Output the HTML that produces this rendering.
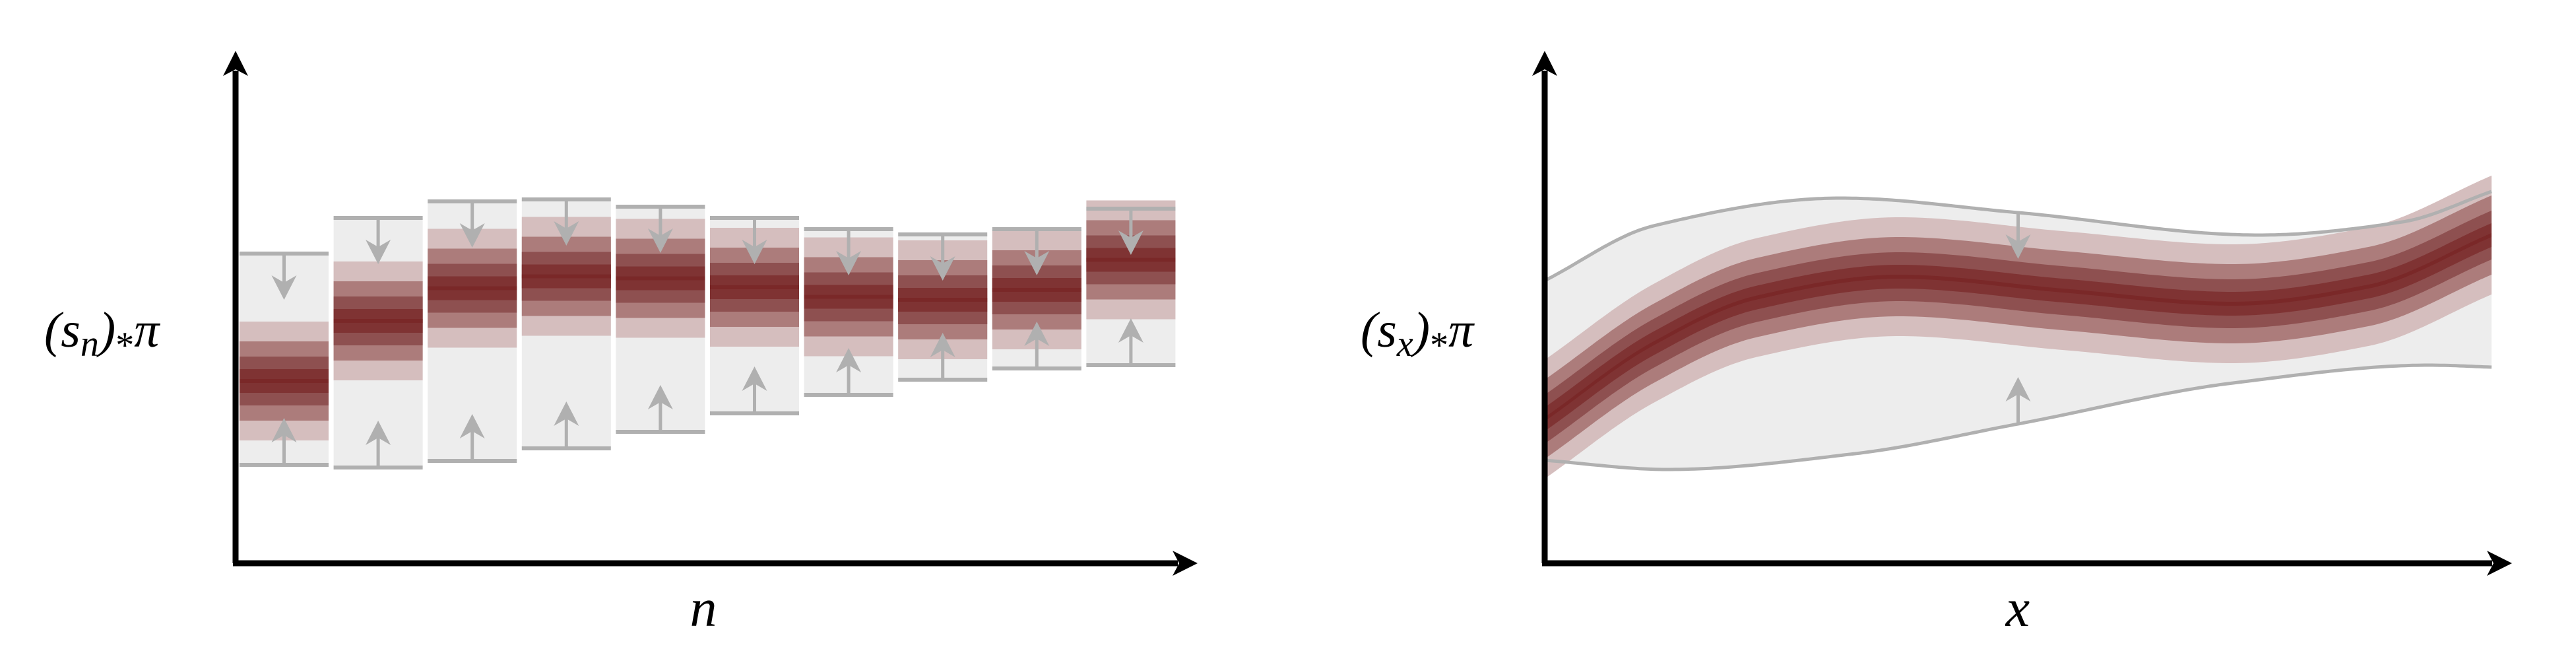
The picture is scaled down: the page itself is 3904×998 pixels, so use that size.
<!DOCTYPE html>
<html><head><meta charset="utf-8">
<style>
html,body{margin:0;padding:0;background:#fff;}
svg{display:block;}
text{font-family:"Liberation Serif","DejaVu Serif",serif;font-style:italic;fill:#000;}
</style></head>
<body>
<svg id="chart" width="3904" height="998" viewBox="0 0 3904 998" xmlns="http://www.w3.org/2000/svg">
  <g id="left"></g>
  <g id="right"></g>
  <text font-family="Liberation Serif, DejaVu Serif, serif" font-style="italic" x="67" y="525" font-size="76">(s<tspan font-size="56" dy="14">n</tspan><tspan dy="-14">)</tspan><tspan font-size="56" dy="16" font-style="normal">*</tspan><tspan dy="-16">π</tspan></text>
  <text font-family="Liberation Serif, DejaVu Serif, serif" font-style="italic" x="1066" y="948" font-size="82" text-anchor="middle">n</text>
  <text font-family="Liberation Serif, DejaVu Serif, serif" font-style="italic" x="2062" y="525" font-size="76">(s<tspan font-size="56" dy="14">x</tspan><tspan dy="-14">)</tspan><tspan font-size="56" dy="16" font-style="normal">*</tspan><tspan dy="-16">π</tspan></text>
  <text font-family="Liberation Serif, DejaVu Serif, serif" font-style="italic" x="3058" y="948" font-size="82" text-anchor="middle">x</text>
</svg>
<script>
// ---- Left chart data ----
const barCenters = [2.76, 3.67, 4.165, 4.345, 4.315, 4.18, 4.035, 3.99, 4.14, 4.595];
const barUpper   = [4.69, 5.23, 5.48, 5.51, 5.40, 5.23, 5.06, 4.98, 5.06, 5.37];
const barLower   = [1.49, 1.45, 1.55, 1.74, 1.99, 2.27, 2.55, 2.78, 2.95, 3.00];
const bandHalf   = [0.90, 0.60, 0.37, 0.18, 0.03];
// ---- Right chart data ----
const curveX     = [0, 0.115, 0.223, 0.374, 0.547, 0.727, 0.870, 1];
const curveY     = [2.18, 3.33, 4.02, 4.34, 4.13, 3.93, 4.19, 4.97];
const upperX     = [0, 0.115, 0.313, 0.5, 0.755, 0.906, 1];
const upperY     = [4.28, 5.11, 5.53, 5.31, 4.97, 5.17, 5.63];
const lowerX     = [0, 0.13, 0.328, 0.5, 0.727, 0.935, 1];
const lowerY     = [1.56, 1.42, 1.66, 2.11, 2.73, 3.00, 2.97];
const arrowAtX   = 0.5;

const NS = "http://www.w3.org/2000/svg";
const bandColors = ["#d5bebe", "#ac7c7b", "#8e5050", "#7f3333", "#7a2828"];
const GRAY = "#b0b0b0";
function mk(tag, attrs, parent){ const e=document.createElementNS(NS,tag); for(const k in attrs) e.setAttribute(k,attrs[k]); parent.appendChild(e); return e; }

const yBase = 853, yUnit = 100;
function yS(v){ return yBase - v*yUnit; }

function arrowHead(parent, x, tipY, dir){
  const L=37, W=19, N=26;
  const by = tipY - dir*L, ny = tipY - dir*N;
  return mk("path",{d:`M${x},${tipY} L${x-W},${by} L${x},${ny} L${x+W},${by} Z`, fill:GRAY}, parent);
}
function grayArrow(parent, x, fromY, len, dir, name){
  const g = mk("g",{},parent);
  
  
  const tip = fromY + dir*len;
  mk("line",{x1:x,y1:fromY,x2:x,y2:tip-dir*20,stroke:GRAY,"stroke-width":5},g);
  arrowHead(g,x,tip,dir);
}
function axes(parent, x0, xEnd, yTop, prefix){
  const g = mk("g",{},parent);
  
  
  mk("line",{x1:x0,y1:yBase,x2:x0,y2:yTop+30,stroke:"#000","stroke-width":9},g);
  mk("line",{x1:x0-4,y1:yBase,x2:xEnd-30,y2:yBase,stroke:"#000","stroke-width":9},g);
  mk("path",{d:`M${x0},${yTop} L${x0-19},${yTop+38} L${x0},${yTop+28} L${x0+19},${yTop+38} Z`,fill:"#000"},g);
  mk("path",{d:`M${xEnd},${yBase} L${xEnd-38},${yBase-19} L${xEnd-28},${yBase} L${xEnd-38},${yBase+19} Z`,fill:"#000"},g);
}

// ---- Left ----
const L = document.getElementById("left");
const barX0 = 363, pitch = 142.6, barW = 135;
function xBar(i){ return barX0 + i*pitch; }
barCenters.forEach((c,i)=>{
  const g = mk("g",{},L);
  
  
  const x = xBar(i), top = yS(barUpper[i]), bot = yS(barLower[i]);
  const bg = mk("rect",{x:x,y:top,width:barW,height:bot-top,fill:"#ededed"},g);
  
  
  bandHalf.forEach((h,k)=>{
    const r = mk("rect",{x:x,y:yS(c+h),width:barW,height:2*h*yUnit,fill:bandColors[k]},g);
    
    
  });
  const cx = x + barW/2;
  const t = mk("line",{x1:x,y1:top,x2:x+barW,y2:top,stroke:GRAY,"stroke-width":6},g);
  
  
  const b = mk("line",{x1:x,y1:bot,x2:x+barW,y2:bot,stroke:GRAY,"stroke-width":6},g);
  
  
  grayArrow(g, cx, top, 70, 1, 'down-arrow');
  grayArrow(g, cx, bot, 71, -1, 'up-arrow');
});
axes(L, 357, 1815, 77, 'left');

// ---- Right ----
const R = document.getElementById("right");
const rx0 = 2341, rx1 = 3776;
function xS(t){ return rx0 + t*(rx1-rx0); }
function tangents(xs, ys){
  const n = xs.length, d = [], m = [];
  for(let i=0;i<n-1;i++) d.push((ys[i+1]-ys[i])/(xs[i+1]-xs[i]));
  m.push(d[0]);
  for(let i=1;i<n-1;i++){
    if(d[i-1]*d[i] <= 0) m.push(0);
    else { const w1 = 2*(xs[i+1]-xs[i]) + (xs[i]-xs[i-1]), w2 = (xs[i+1]-xs[i]) + 2*(xs[i]-xs[i-1]);
      m.push((w1+w2)/(w1/d[i-1] + w2/d[i])); }
  }
  m.push(d[n-2]);
  return m;
}
function interp(xs, ys, x){
  const m = tangents(xs, ys);
  let i = 0; while(i < xs.length-2 && x > xs[i+1]) i++;
  const h = xs[i+1]-xs[i], t = (x-xs[i])/h;
  const t2=t*t, t3=t2*t;
  return (2*t3-3*t2+1)*ys[i] + (t3-2*t2+t)*h*m[i] + (-2*t3+3*t2)*ys[i+1] + (t3-t2)*h*m[i+1];
}
const S = 240;
function pts(xs, ys, off){ const a=[]; for(let k=0;k<=S;k++){ const t=k/S; a.push([xS(t), yS(interp(xs,ys,t)+off)]); } return a; }
function poly(a){ return a.map((p,i)=>(i?"L":"M")+p[0].toFixed(1)+","+p[1].toFixed(1)).join(" "); }
const up = pts(upperX, upperY, 0), lo = pts(lowerX, lowerY, 0);
const fillP = mk("path",{d: poly(up) + " " + poly(lo.slice().reverse()).replace("M","L") + " Z", fill:"#ededed"}, R);


bandHalf.forEach((h,k)=>{
  const a = pts(curveX, curveY, h), b = pts(curveX, curveY, -h);
  const p = mk("path",{d: poly(a) + " " + poly(b.reverse()).replace("M","L") + " Z", fill:bandColors[k]}, R);
  
  
});
const ul = mk("path",{d:poly(up),fill:"none",stroke:GRAY,"stroke-width":5}, R);


const ll = mk("path",{d:poly(lo),fill:"none",stroke:GRAY,"stroke-width":5}, R);


const ax = xS(arrowAtX);
grayArrow(R, ax, yS(interp(upperX,upperY,arrowAtX)), 70, 1, 'down-arrow');
grayArrow(R, ax, yS(interp(lowerX,lowerY,arrowAtX)), 71, -1, 'up-arrow');
axes(R, 2341, 3807, 77, 'right');
</script>
</body></html>
